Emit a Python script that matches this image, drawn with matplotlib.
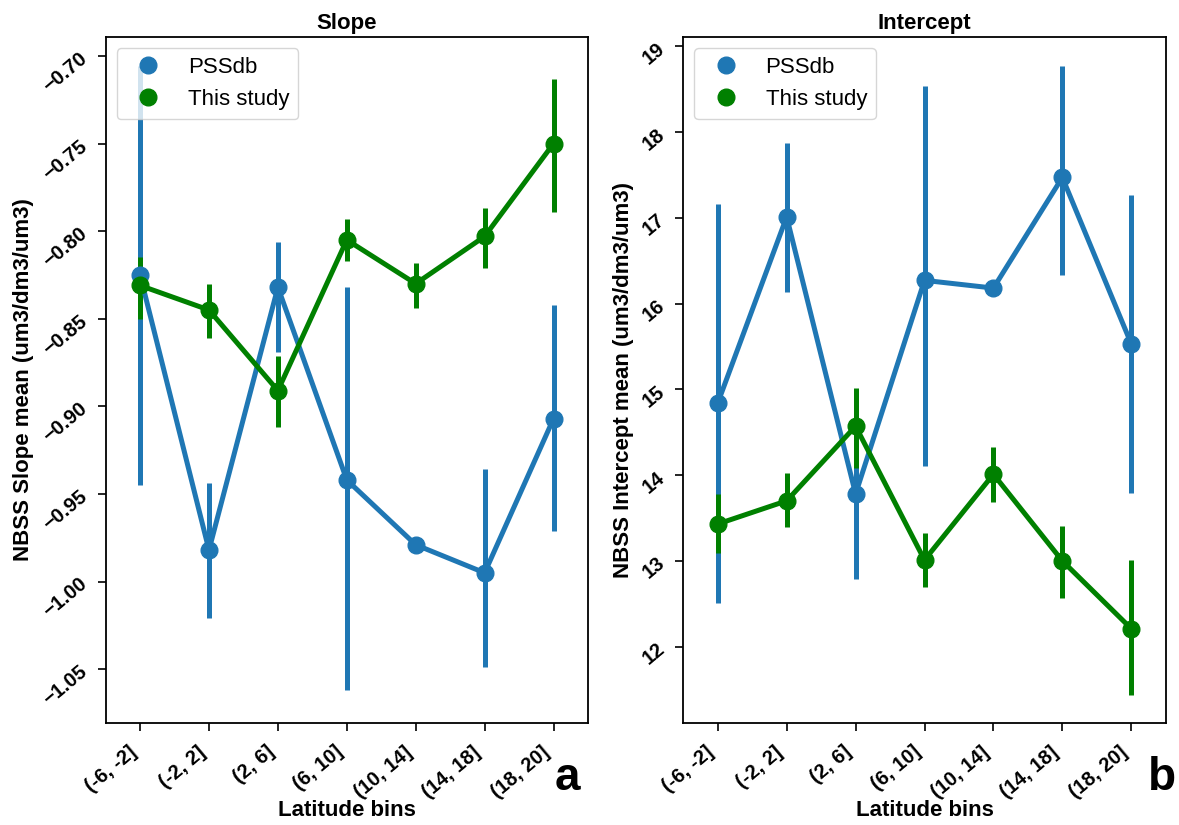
import matplotlib
matplotlib.use("Agg")
import matplotlib.pyplot as plt
import numpy as np

plt.rcParams['font.family'] = ['Liberation Sans', 'DejaVu Sans']

categories = ["(-6, -2]", "(-2, 2]", "(2, 6]", "(6, 10]", "(10, 14]", "(14, 18]", "(18, 20]"]

# Slope panel
slope_pssdb = [-0.825, -0.982, -0.832, -0.942, -0.979, -0.995, -0.907]
slope_pssdb_lo = [-0.945, -1.021, -0.869, -1.062, np.nan, -1.049, -0.971]
slope_pssdb_hi = [-0.706, -0.944, -0.806, -0.832, np.nan, -0.936, -0.842]
slope_study = [-0.831, -0.845, -0.891, -0.805, -0.830, -0.803, -0.750]
slope_study_lo = [-0.850, -0.861, -0.912, -0.817, -0.844, -0.821, -0.789]
slope_study_hi = [-0.815, -0.830, -0.871, -0.793, -0.818, -0.787, -0.713]

# Intercept panel
int_pssdb = [14.84, 17.01, 13.78, 16.27, 16.18, 17.47, 15.53]
int_pssdb_lo = [12.51, 16.14, 12.79, 14.11, np.nan, 16.33, 13.79]
int_pssdb_hi = [17.16, 17.87, 14.60, 18.53, np.nan, 18.77, 17.27]
int_study = [13.43, 13.70, 14.57, 13.01, 14.01, 13.00, 12.21]
int_study_lo = [13.09, 13.40, 14.08, 12.69, 13.69, 12.57, 11.44]
int_study_hi = [13.78, 14.03, 15.02, 13.33, 14.33, 13.41, 13.01]

series_names = ["PSSdb", "This study"]
colors = ["#1f77b4", "green"]

W, H = 1179, 825
fig = plt.figure(figsize=(W / 100, H / 100), dpi=100)
axL = fig.add_axes([105.6 / W, (H - 723) / H, 482.4 / W, 686 / H])
axR = fig.add_axes([683.3 / W, (H - 723) / H, 482.4 / W, 686 / H])

LW = 3.6
MS = 12
TICKFS = 14.5
ROT = 40


def draw(ax, data, title, ylabel, ylim, yticks, yfmt):
    x = np.arange(len(categories))
    handles = []
    for (mean, lo, hi), name, c in zip(data, series_names, colors):
        ax.vlines(x, lo, hi, color=c, lw=LW, zorder=2)
        ax.plot(x, mean, color=c, lw=LW, zorder=3)
        h, = ax.plot(x, mean, ls='none', marker='o', ms=MS, color=c, zorder=4, label=name)
        handles.append(h)
    ax.set_xlim(-0.5, len(categories) - 0.5)
    ax.set_ylim(*ylim)
    ax.set_xticks(x)
    ax.set_xticklabels(categories, rotation=ROT, ha='right',
                       fontsize=TICKFS, fontweight='bold')
    ax.set_yticks(yticks)
    ax.set_yticklabels([yfmt(v) for v in yticks], rotation=ROT, ha='right',
                       rotation_mode='anchor', va='center', fontsize=TICKFS, fontweight='bold')
    ax.tick_params(axis='x', length=6, width=1.2, pad=8)
    ax.tick_params(axis='y', length=6, width=1.2, pad=9)
    for s in ax.spines.values():
        s.set_linewidth(1.3)
    ax.set_title(title, fontsize=16, fontweight='bold')
    ax.set_xlabel("Latitude bins", fontsize=16, fontweight='bold', va='top')
    ax.xaxis.set_label_coords(0.5, -(800 - 723) / 686)
    ax.set_ylabel(ylabel, fontsize=16, fontweight='bold')
    ax.legend(handles=handles, loc='upper left', fontsize=16, markerscale=1.0)


draw(axL,
     [(slope_pssdb, slope_pssdb_lo, slope_pssdb_hi), (slope_study, slope_study_lo, slope_study_hi)],
     "Slope", "NBSS Slope mean (um3/dm3/um3)", (-1.0807, -0.6892),
     np.round(np.arange(-1.05, -0.699, 0.05), 2), lambda v: f"{v:.2f}".replace('-', '\u2212'))
draw(axR,
     [(int_pssdb, int_pssdb_lo, int_pssdb_hi), (int_study, int_study_lo, int_study_hi)],
     "Intercept", "NBSS Intercept mean (um3/dm3/um3)", (11.11, 19.107),
     np.arange(12, 20), lambda v: f"{int(v)}")

fig.text(580 / W, (H - 790) / H, "a", fontsize=33, fontweight='bold', ha='right', va='baseline')
fig.text(1176 / W, (H - 790) / H, "b", fontsize=33, fontweight='bold', ha='right', va='baseline')

fig.savefig("out.png", dpi=100)
